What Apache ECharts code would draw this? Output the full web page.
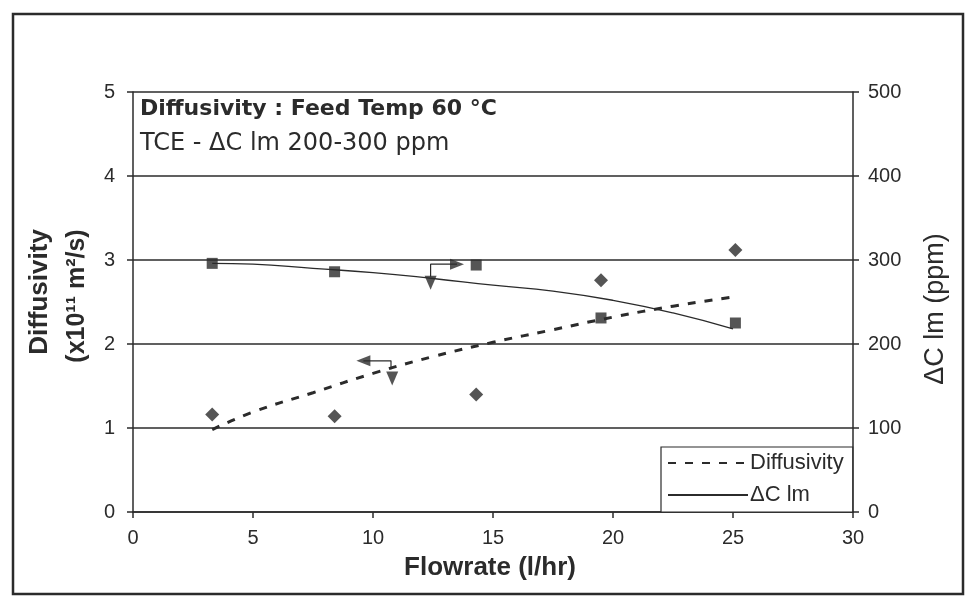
<!DOCTYPE html>
<html>
<head>
<meta charset="utf-8">
<script src="https://cdn.jsdelivr.net/npm/echarts@6/dist/echarts.min.js"></script>
<style>
html,body{margin:0;padding:0;background:#fff;}
#chart{width:970px;height:605px;}
</style>
</head>
<body>
<div id="chart"></div>
<script>
// ---- data ----
var xTicks = [0, 5, 10, 15, 20, 25, 30];
var leftTicks = [0, 1, 2, 3, 4, 5];
var rightTicks = [0, 100, 200, 300, 400, 500];

var flowrate = [3.3, 8.4, 14.3, 19.5, 25.1];
var diffusivity = [1.16, 1.14, 1.40, 2.76, 3.12];
var dClm = [296, 286, 294, 231, 225];

var trendX = [3.3, 5, 7.5, 10, 12.5, 15, 17.5, 20, 22.5, 25];
var diffTrend = [0.98, 1.19, 1.42, 1.65, 1.85, 2.02, 2.17, 2.32, 2.45, 2.56];
var dClmTrend = [296, 295, 290, 285, 278, 270, 263, 252, 237, 218];

// annotation arrows (data coordinates)
var arrowRight = [[12.4, 280], [12.4, 295], [13.5, 295]];   // on right axis
var arrowRightHead = [[13.5, 295]];
var arrowLeft = [[10.75, 1.70], [10.75, 1.80], [9.6, 1.80]]; // on left axis
var arrowLeftHead = [[9.6, 1.80]];
var triRight = [[12.4, 273]];
var triLeft = [[10.8, 1.59]];

var titleLine1 = 'Diffusivity : Feed Temp 60 °C';
var titleLine2 = 'TCE - ΔC lm 200-300 ppm';

function zip(xs, ys) { return xs.map(function (x, i) { return [x, ys[i]]; }); }

var INK = '#2b2b2b';
var FONT = 'Liberation Sans, Arial, sans-serif';

var chart = echarts.init(document.getElementById('chart'), null, {renderer: 'canvas'});

var option = {
  backgroundColor: '#fff',
  animation: false,
  grid: {left: 133, right: 117, top: 92, bottom: 93, containLabel: false},
  xAxis: {
    type: 'value', min: xTicks[0], max: xTicks[xTicks.length - 1], interval: 5,
    axisLine: {show: true, lineStyle: {color: INK, width: 1.5}},
    axisTick: {show: true, length: 6, lineStyle: {color: INK, width: 1.5}},
    axisLabel: {color: INK, fontSize: 20, fontFamily: FONT, margin: 16},
    splitLine: {show: false}
  },
  yAxis: [{
    type: 'value', min: leftTicks[0], max: leftTicks[leftTicks.length - 1], interval: 1,
    position: 'left',
    axisLine: {show: true, lineStyle: {color: INK, width: 1.5}},
    axisTick: {show: true, length: 6, lineStyle: {color: INK, width: 1.5}},
    axisLabel: {color: INK, fontSize: 20, fontFamily: FONT, margin: 18},
    splitLine: {show: true, lineStyle: {color: INK, width: 1.5}}
  }, {
    type: 'value', min: rightTicks[0], max: rightTicks[rightTicks.length - 1], interval: 100,
    position: 'right',
    axisLine: {show: true, lineStyle: {color: INK, width: 1.5}},
    axisTick: {show: true, length: 6, lineStyle: {color: INK, width: 1.5}},
    axisLabel: {color: INK, fontSize: 20, fontFamily: FONT, margin: 15},
    splitLine: {show: false}
  }],
  legend: {
    orient: 'vertical', left: 661, top: 447,
    data: ['Diffusivity', 'ΔC lm'],
    itemWidth: 80, itemHeight: 14, itemGap: 10,
    padding: [5, 9, 6, 6],
    borderColor: INK, borderWidth: 1.2,
    backgroundColor: '#fff',
    itemStyle: {opacity: 0},
    textStyle: {color: INK, fontSize: 22, fontFamily: FONT, padding: [0, 0, 0, -3]}
  },
  series: [
    {
      name: 'Diffusivity', type: 'line', yAxisIndex: 0, smooth: true,
      symbol: 'none', data: zip(trendX, diffTrend),
      itemStyle: {color: INK},
      lineStyle: {color: INK, width: 3, type: [8, 9]}, z: 3
    },
    {
      name: 'ΔC lm', type: 'line', yAxisIndex: 1, smooth: true,
      symbol: 'none', data: zip(trendX, dClmTrend),
      itemStyle: {color: INK},
      lineStyle: {color: INK, width: 1.3}, z: 3
    },
    {
      name: 'Diffusivity data', type: 'scatter', yAxisIndex: 0,
      symbol: 'diamond', symbolSize: 14, data: zip(flowrate, diffusivity),
      itemStyle: {color: INK}, z: 4
    },
    {
      name: 'ΔC lm data', type: 'scatter', yAxisIndex: 1,
      symbol: 'rect', symbolSize: 11, data: zip(flowrate, dClm),
      itemStyle: {color: INK}, z: 4
    },
    {
      name: 'arrowR', type: 'line', xAxisIndex: 0, yAxisIndex: 1,
      symbol: 'none', data: arrowRight,
      lineStyle: {color: INK, width: 1.2}, z: 5
    },
    {
      name: 'arrowL', type: 'line', xAxisIndex: 0, yAxisIndex: 0,
      symbol: 'none', data: arrowLeft,
      lineStyle: {color: INK, width: 1.2}, z: 5
    },
    {
      name: 'arrowRHead', type: 'scatter', yAxisIndex: 1, symbol: 'triangle', symbolRotate: -90,
      symbolSize: [11, 14], data: arrowRightHead, itemStyle: {color: INK}, z: 5
    },
    {
      name: 'arrowLHead', type: 'scatter', yAxisIndex: 0, symbol: 'triangle', symbolRotate: 90,
      symbolSize: [11, 14], data: arrowLeftHead, itemStyle: {color: INK}, z: 5
    },
    {
      name: 'triR', type: 'scatter', yAxisIndex: 1, symbol: 'triangle', symbolRotate: 180,
      symbolSize: [12, 14], data: triRight, itemStyle: {color: INK}, z: 5
    },
    {
      name: 'triL', type: 'scatter', yAxisIndex: 0, symbol: 'triangle', symbolRotate: 180,
      symbolSize: [12, 14], data: triLeft, itemStyle: {color: INK}, z: 5
    }
  ],
  graphic: [
    {type: 'rect', shape: {x: 13, y: 14, width: 950, height: 580},
     style: {fill: 'none', stroke: INK, lineWidth: 2.5}, silent: true, z: 0},
    {type: 'text', x: 140, y: 109, style: {text: titleLine1, fill: INK,
      font: 'bold 22px DejaVu Sans, sans-serif', textAlign: 'left', textVerticalAlign: 'middle'}},
    {type: 'text', x: 140, y: 144, style: {text: titleLine2, fill: INK,
      font: '24px DejaVu Sans, sans-serif', textAlign: 'left', textVerticalAlign: 'middle'}},
    {type: 'text', x: 490, y: 568, style: {text: 'Flowrate (l/hr)', fill: INK,
      font: 'bold 26px ' + FONT, textAlign: 'center', textVerticalAlign: 'middle'}},
    {type: 'text', x: 40, y: 292, rotation: Math.PI / 2, style: {text: 'Diffusivity', fill: INK,
      font: 'bold 26px ' + FONT, textAlign: 'center', textVerticalAlign: 'middle'}},
    {type: 'text', x: 77, y: 296, rotation: Math.PI / 2, style: {text: '(x10¹¹ m²/s)', fill: INK,
      font: 'bold 25px ' + FONT, textAlign: 'center', textVerticalAlign: 'middle'}},
    {type: 'text', x: 936, y: 309, rotation: Math.PI / 2, style: {text: 'ΔC lm (ppm)', fill: INK,
      font: '27px ' + FONT, textAlign: 'center', textVerticalAlign: 'middle'}}
  ]
};
chart.setOption(option);
</script>
</body>
</html>
